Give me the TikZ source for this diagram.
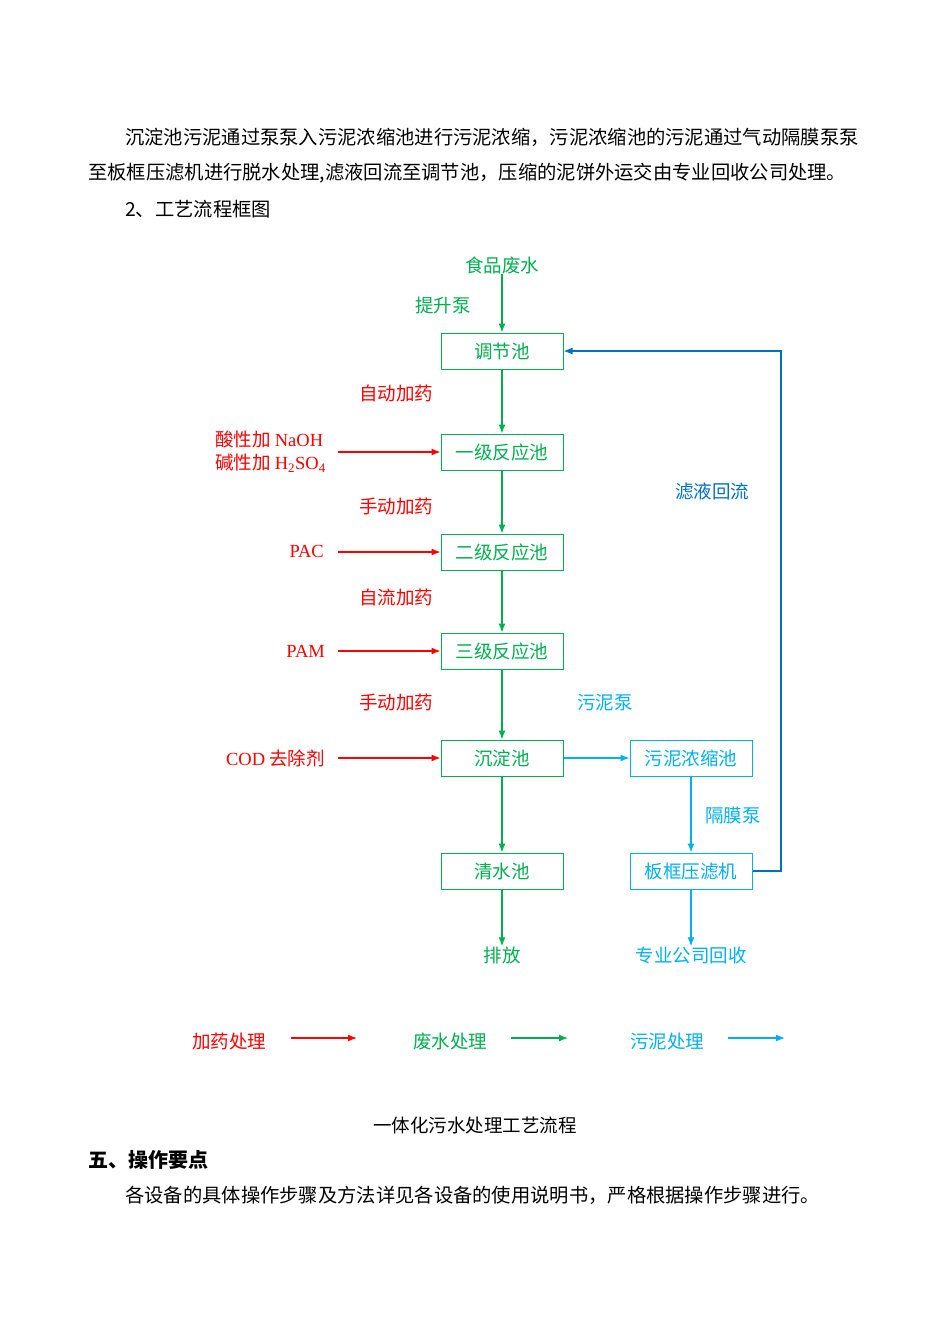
\documentclass[tikz,border=0pt]{standalone}
\usepackage{fontspec}
\setmainfont{Liberation Serif}
\newfontfamily\cjk{Noto Sans CJK SC}
\usetikzlibrary{arrows.meta}
\definecolor{gr}{RGB}{0,176,80}
\definecolor{rd}{RGB}{255,0,0}
\definecolor{lb}{RGB}{0,176,240}
\definecolor{db}{RGB}{0,112,192}
\begin{document}
\begin{tikzpicture}[x=1pt,y=-1pt,
  every node/.style={font=\fontsize{18.5}{21}\selectfont\cjk, inner sep=0pt},
  par/.style={font=\fontsize{19.3}{22}\selectfont\cjk},
  lat/.style={font=\fontsize{18.5}{21}\selectfont\rmfamily},
  box/.style={draw, minimum width=122pt, minimum height=36pt, line width=1pt},
  ar/.style={line width=1.2pt, -{Latex[length=9pt,width=7pt]}}]
\useasboundingbox (0,0) rectangle (950,1344);
% text
\node[par,anchor=west] (p1) at (125,137) {沉淀池污泥通过泵泵入污泥浓缩池进行污泥浓缩，污泥浓缩池的污泥通过气动隔膜泵泵};
\node[par,anchor=west] (p2) at (88,173) {至板框压滤机进行脱水处理,滤液回流至调节池，压缩的泥饼外运交由专业回收公司处理。};
\node[par,anchor=west] (p3) at (125,209) {2、工艺流程框图};
% green chain
\node[text=gr] (src) at (502,265) {食品废水};
\node[text=gr] at (443,305) {提升泵};
\node[box,draw=gr,text=gr] (b1) at (502,351) {调节池};
\node[box,draw=gr,text=gr] (b2) at (502,452) {一级反应池};
\node[box,draw=gr,text=gr] (b3) at (502,552) {二级反应池};
\node[box,draw=gr,text=gr] (b4) at (502,651) {三级反应池};
\node[box,draw=gr,text=gr] (b5) at (502,758) {沉淀池};
\node[box,draw=gr,text=gr] (b6) at (502,871) {清水池};
\node[text=gr] (out) at (502,955) {排放};
\foreach \a/\b in {src/b1,b1/b2,b2/b3,b3/b4,b4/b5,b5/b6,b6/out}
  \draw[ar,gr] (\a) -- (\b);
% red
\node[text=rd] at (396,393) {自动加药};
\node[text=rd] at (396,506) {手动加药};
\node[text=rd] at (396,597) {自流加药};
\node[text=rd] at (396,702) {手动加药};
\node[text=rd,anchor=east,align=left] (r1) at (326,452) {酸性加 {\rmfamily NaOH}\\[2pt]碱性加 {\rmfamily H\textsubscript{2}SO\textsubscript{4}}};
\node[text=rd,anchor=east,lat] (r2) at (324,551) {PAC};
\node[text=rd,anchor=east,lat] (r3) at (325,651) {PAM};
\node[text=rd,anchor=east] (r4) at (325,758) {{\rmfamily COD} 去除剂};
\coordinate (c1) at (338,452); \coordinate (c2) at (338,552);
\coordinate (c3) at (338,651); \coordinate (c4) at (338,758);
\draw[ar,rd] (c1) -- (b2.west);
\draw[ar,rd] (c2) -- (b3.west);
\draw[ar,rd] (c3) -- (b4.west);
\draw[ar,rd] (c4) -- (b5.west);
% sludge
\node[box,draw=lb,text=lb] (s1) at (691,758) {污泥浓缩池};
\node[box,draw=lb,text=lb] (s2) at (691,871) {板框压滤机};
\node[text=lb] (s3) at (691,955) {专业公司回收};
\node[text=lb] at (605,703) {污泥泵};
\node[text=lb] at (733,815) {隔膜泵};
\draw[ar,lb] (b5) -- (s1);
\draw[ar,lb] (s1) -- (s2);
\draw[ar,lb] (s2) -- (s3);
\draw[ar,db] (s2.east) -| (781,351) -- (b1.east);
\node[text=db] at (712,491) {滤液回流};
% legend
\node[text=rd] at (229,1041) {加药处理};
\node[text=gr] at (450,1041) {废水处理};
\node[text=lb] at (667,1041) {污泥处理};
\coordinate (l1a) at (291,1038); \coordinate (l1b) at (357,1038);
\coordinate (l2a) at (511,1038); \coordinate (l2b) at (568,1038);
\coordinate (l3a) at (728,1038); \coordinate (l3b) at (785,1038);
\draw[ar,rd] (l1a) -- (l1b);
\draw[ar,gr] (l2a) -- (l2b);
\draw[ar,lb] (l3a) -- (l3b);
% caption
\node (cap) at (475,1125) {一体化污水处理工艺流程};
\node[anchor=west,font=\fontsize{20}{23}\selectfont\cjk\bfseries] (h5) at (88,1160) {五、操作要点};
\node[par,anchor=west] (p4) at (125,1195) {各设备的具体操作步骤及方法详见各设备的使用说明书，严格根据操作步骤进行。};
\end{tikzpicture}
\end{document}
